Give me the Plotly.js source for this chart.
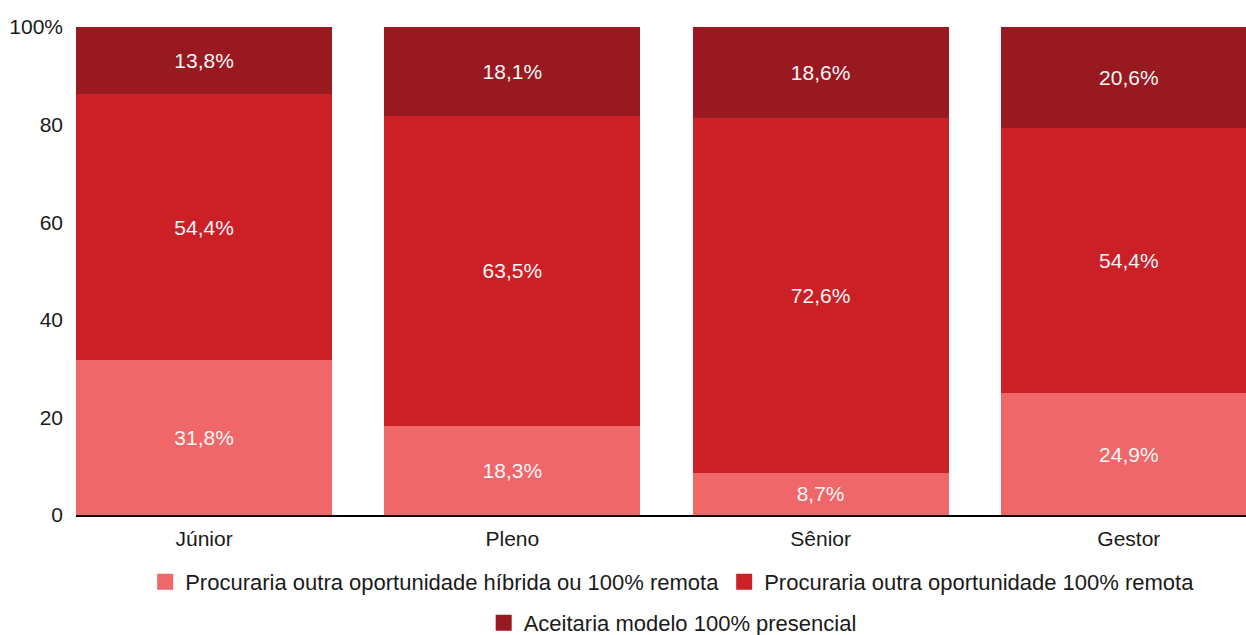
<!DOCTYPE html>
<html>
<head>
<meta charset="utf-8">
<script src="https://cdn.plot.ly/plotly-3.0.1.min.js"></script>
<style>html,body{margin:0;padding:0;background:#fff}#chart{width:1246px;height:635px}</style>
</head>
<body>
<div id="chart"></div>
<script>
const categories = ['Júnior', 'Pleno', 'Sênior', 'Gestor'];
const seriesNames = [
  'Procuraria outra oportunidade híbrida ou 100% remota',
  'Procuraria outra oportunidade 100% remota',
  'Aceitaria modelo 100% presencial'
];
const hibridaOuRemota = [31.8, 18.3, 8.7, 24.9];
const remota = [54.4, 63.5, 72.6, 54.4];
const presencial = [13.8, 18.1, 18.6, 20.6];
const colors = ['#F0676A', '#CC2027', '#981A20'];
const yTickVals = [0, 20, 40, 60, 80, 100];
const yTickText = ['0', '20', '40', '60', '80', '100%'];

const FONT = 'Liberation Sans, Arial, sans-serif';
const seriesValues = [hibridaOuRemota, remota, presencial];
const legendIds = ['legend', 'legend', 'legend2'];

const barTraces = seriesValues.map((vals, i) => ({
  type: 'bar',
  name: seriesNames[i],
  x: categories,
  y: vals,
  marker: {color: colors[i]},
  texttemplate: '%{y:.1f}%',
  textposition: 'inside',
  insidetextanchor: 'middle',
  constraintext: 'none',
  textfont: {family: FONT, size: 21, color: '#F6F6F6'},
  showlegend: false
}));

// legend entries (square swatches), no visible marks in the plot
const legendTraces = seriesNames.map((n, i) => ({
  type: 'scatter', mode: 'markers',
  name: n, x: [null], y: [null],
  marker: {symbol: 'square', size: 27, color: colors[i]},
  legend: legendIds[i],
  showlegend: true, hoverinfo: 'skip'
}));

const legendBase = {
  orientation: 'h',
  xanchor: 'center', yanchor: 'middle',
  font: {family: FONT, size: 22, color: '#1a1a1a'},
  traceorder: 'normal',
  itemsizing: 'trace',
  itemclick: false, bgcolor: 'rgba(0,0,0,0)'
};

const layout = {
  width: 1246, height: 635,
  margin: {l: 76, r: 0, t: 27, b: 120, autoexpand: false},
  barmode: 'stack',
  bargap: 0.169,
  separators: ',.',
  paper_bgcolor: '#fff', plot_bgcolor: '#fff',
  font: {family: FONT, size: 21, color: '#1a1a1a'},
  xaxis: {
    range: [-0.4156, 3.38],
    showline: true, linecolor: '#000', linewidth: 2,
    showgrid: false, zeroline: false,
    ticks: '', ticklabelstandoff: 4,
    tickfont: {family: FONT, size: 21, color: '#1a1a1a'}
  },
  yaxis: {
    range: [0, 100],
    tickvals: yTickVals, ticktext: yTickText,
    showgrid: false, zeroline: false, showline: false,
    ticks: '', ticklabelstandoff: 12,
    tickfont: {family: FONT, size: 21, color: '#1a1a1a'}
  },
  legend: Object.assign({}, legendBase, {x: 0.51, y: -0.137}),
  legend2: Object.assign({}, legendBase, {x: 0.51, y: -0.221}),
  showlegend: true
};

Plotly.newPlot('chart', barTraces.concat(legendTraces), layout, {displayModeBar: false, staticPlot: true});
</script>
</body>
</html>
